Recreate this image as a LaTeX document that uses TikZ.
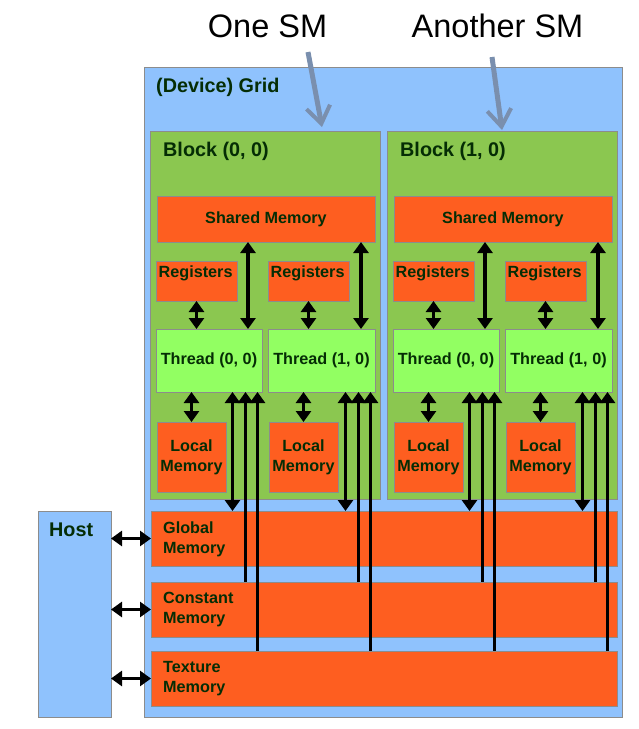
\documentclass[tikz,border=0pt]{standalone}
\usepackage{fontspec}
\setmainfont{Liberation Sans}
\usetikzlibrary{arrows.meta,calc}
\definecolor{gridblue}{RGB}{143,194,253}
\definecolor{blockgreen}{RGB}{139,199,80}
\definecolor{memorange}{RGB}{254,94,32}
\definecolor{threadgreen}{RGB}{146,255,98}
\definecolor{txtgreen}{RGB}{5,45,5}
\definecolor{edgegrey}{RGB}{140,140,140}
\definecolor{smarrow}{RGB}{122,143,174}
\begin{document}
\begin{tikzpicture}[x=1pt,y=-1pt,
  rect/.style={draw=edgegrey,line width=1pt,inner sep=0pt,outer sep=0pt,anchor=north west},
  lbl/.style={font=\bfseries\fontsize{16.2}{20}\selectfont,text=txtgreen,inner sep=0pt},
  biglbl/.style={font=\bfseries\fontsize{19.8}{22}\selectfont,text=txtgreen,inner sep=0pt},
  smlbl/.style={font=\fontsize{32.5}{36}\selectfont,text=black,inner sep=0pt},
  dbl/.style={line width=3.3pt,{Triangle[width=15pt,length=11pt]}-{Triangle[width=15pt,length=11pt]}},
  uparr/.style={line width=3.3pt,{Triangle[width=15pt,length=11pt]}-},
  smarr/.style={line width=5pt,draw=smarrow,-{Straight Barb[length=17pt,width=24pt,line width=4pt]}}]
\useasboundingbox (0,0) rectangle (639,729);
\fill[white] (0,0) rectangle (639,729);

% titles
\node[smlbl,anchor=base] (one) at (267.5,37) {One SM};
\node[smlbl,anchor=base] (another) at (497.5,37) {Another SM};

% grid and host
\node[rect,fill=gridblue,minimum width=478,minimum height=650] (grid) at (144,67) {};
\node[biglbl,anchor=base west] (gridlbl) at (156,92) {(Device) Grid};
\node[rect,fill=gridblue,minimum width=73,minimum height=206] (host) at (38,511) {};
\node[biglbl,anchor=base west] (hostlbl) at (49,536) {Host};

% device memories
\node[rect,fill=memorange,minimum width=466,minimum height=55] (glob) at (151,511) {};
\node[rect,fill=memorange,minimum width=466,minimum height=55] (const) at (151,582) {};
\node[rect,fill=memorange,minimum width=466,minimum height=55] (tex) at (151,651) {};
\node[lbl,align=left,anchor=west] (globlbl) at (163,539) {Global\\Memory};
\node[lbl,align=left,anchor=west] (constlbl) at (163,610) {Constant\\Memory};
\node[lbl,align=left,anchor=west] (texlbl) at (163,679) {Texture\\Memory};

\foreach \m in {glob,const,tex}
  \draw[dbl] (host.east |- \m.west) -- (\m.west);

% blocks
\foreach \i/\dx in {0/0,1/237}{
  \node[rect,fill=blockgreen,minimum width=230,minimum height=368] (blk\i) at (150+\dx,131) {};
  \node[biglbl,anchor=base west] (blklbl\i) at (163+\dx,156) {Block (\i, 0)};
  \node[rect,fill=memorange,minimum width=218,minimum height=46] (sh\i) at (157+\dx,196) {};
  \node[lbl] (shlbl\i) at (sh\i) {Shared Memory};
  \node[rect,fill=memorange,minimum width=81,minimum height=40] (ra\i) at (156+\dx,261) {};
  \node[rect,fill=memorange,minimum width=81,minimum height=40] (rb\i) at (268+\dx,261) {};
  \node[lbl,anchor=base west] (ralbl\i) at (158.5+\dx,277) {Registers};
  \node[lbl,anchor=base west] (rblbl\i) at (270.5+\dx,277) {Registers};
  \node[rect,fill=threadgreen,minimum width=106,minimum height=63] (ta\i) at (156+\dx,329) {};
  \node[rect,fill=threadgreen,minimum width=107,minimum height=63] (tb\i) at (268+\dx,329) {};
  \node[lbl] (talbl\i) at (ta\i) {Thread (0, 0)};
  \node[lbl] (tblbl\i) at (tb\i) {Thread (1, 0)};
  \node[rect,fill=memorange,minimum width=69,minimum height=70] (la\i) at (157+\dx,422) {};
  \node[rect,fill=memorange,minimum width=69,minimum height=70] (lb\i) at (269+\dx,422) {};
  \node[lbl,align=center] (lalbl\i) at (la\i) {Local\\Memory};
  \node[lbl,align=center] (lblbl\i) at (lb\i) {Local\\Memory};
}

% arrows inside blocks
\foreach \i in {0,1}{
  \foreach \t in {a,b}{
    \draw[dbl] (r\t\i.south) -- (r\t\i.south |- t\t\i.north);
    \draw[dbl] (l\t\i.north) -- (l\t\i.north |- t\t\i.south);
    \draw[dbl] ([xshift=-14pt]t\t\i.north east) -- ([xshift=-14pt]t\t\i.north east |- sh\i.south);
    \draw[dbl] ([xshift=-29.5pt]t\t\i.south east) -- ([xshift=-29.5pt]t\t\i.south east |- glob.north);
    \draw[uparr] ([xshift=-16.5pt]t\t\i.south east) -- ([xshift=-16.5pt]t\t\i.south east |- const.north);
    \draw[uparr] ([xshift=-4.5pt]t\t\i.south east) -- ([xshift=-4.5pt]t\t\i.south east |- tex.north);
  }
}

% SM arrows
\coordinate (sm1s) at (308,52);
\coordinate (sm1e) at (322,127);
\coordinate (sm2s) at (492,57);
\coordinate (sm2e) at (502,130);
\draw[smarr] (sm1s) -- (sm1e);
\draw[smarr] (sm2s) -- (sm2e);
\end{tikzpicture}
\end{document}
